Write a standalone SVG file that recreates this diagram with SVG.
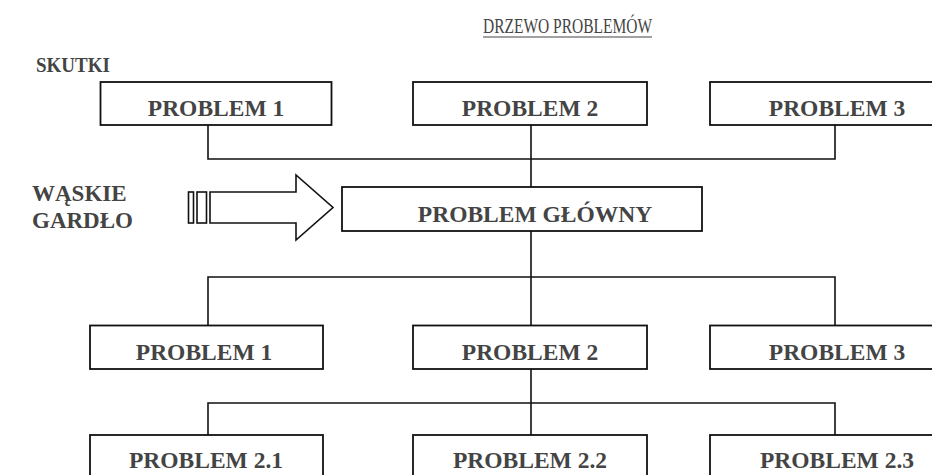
<svg xmlns="http://www.w3.org/2000/svg" width="932" height="475" viewBox="0 0 932 475">
  <style>
    .box { fill: #ffffff; stroke: #111111; stroke-width: 1.8; }
    .lbl { font-family: "Liberation Serif", "Times New Roman", serif; font-weight: bold; font-size: 23.5px; fill: #444444; text-anchor: middle; }
    .side { font-family: "Liberation Serif", "Times New Roman", serif; font-weight: bold; fill: #444444; }
    .title { font-family: "Liberation Serif", "Times New Roman", serif; font-size: 21px; fill: #444444; }
    .wire { fill: none; stroke: #111111; stroke-width: 1.6; }
    .arrow { fill: #ffffff; stroke: #111111; stroke-width: 1.6; stroke-linejoin: miter; }
  </style>
  <rect width="932" height="475" fill="#ffffff"/>

  <!-- heading -->
  <g id="heading">
    <text class="title" x="483" y="33" textLength="169" lengthAdjust="spacingAndGlyphs">DRZEWO PROBLEMÓW</text>
    <line x1="483" y1="37" x2="652" y2="37" stroke="#444444" stroke-width="1.2"/>
  </g>

  <text class="side" x="36" y="72" font-size="21" textLength="74" lengthAdjust="spacingAndGlyphs">SKUTKI</text>

  <!-- bottleneck label and arrow -->
  <g id="bottleneck">
    <text class="side" x="32" y="201" font-size="23">WĄSKIE</text>
    <text class="side" x="32" y="228" font-size="23">GARDŁO</text>
    <rect class="arrow" x="188.5" y="192" width="5" height="31"/>
    <rect class="arrow" x="197" y="192" width="9.5" height="31"/>
    <polygon class="arrow" points="210,192 296,192 296,175 333,207.5 296,240 296,223 210,223"/>
  </g>

  <!-- connectors -->
  <g id="connectors">
    <path class="wire" d="M208,125 V159 H835 V125 M531,125 V187"/>
    <path class="wire" d="M531,231 V325.5 M208,325.5 V277 H835 V325.5"/>
    <path class="wire" d="M531,369 V435 M208,435 V403 H835 V435"/>
  </g>

  <!-- effects -->
  <g id="effect1">
    <rect class="box" x="100.5" y="82" width="231" height="43"/>
    <text class="lbl" x="216" y="116">PROBLEM 1</text>
  </g>
  <g id="effect2">
    <rect class="box" x="413" y="82" width="234" height="43"/>
    <text class="lbl" x="530" y="116">PROBLEM 2</text>
  </g>
  <g id="effect3">
    <rect class="box" x="710" y="82" width="254" height="43"/>
    <text class="lbl" x="837" y="116">PROBLEM 3</text>
  </g>

  <!-- core problem -->
  <g id="core">
    <rect class="box" x="342" y="187" width="360" height="44"/>
    <text class="lbl" x="535" y="221.5">PROBLEM GŁÓWNY</text>
  </g>

  <!-- causes -->
  <g id="cause1">
    <rect class="box" x="90" y="325.5" width="233" height="43.5"/>
    <text class="lbl" x="204" y="359.5">PROBLEM 1</text>
  </g>
  <g id="cause2">
    <rect class="box" x="413" y="325.5" width="234" height="43.5"/>
    <text class="lbl" x="530" y="359.5">PROBLEM 2</text>
  </g>
  <g id="cause3">
    <rect class="box" x="710" y="325.5" width="254" height="43.5"/>
    <text class="lbl" x="837" y="359.5">PROBLEM 3</text>
  </g>

  <!-- sub-causes -->
  <g id="cause2_1">
    <rect class="box" x="90" y="435" width="233" height="50"/>
    <text class="lbl" x="206" y="468">PROBLEM 2.1</text>
  </g>
  <g id="cause2_2">
    <rect class="box" x="413" y="435" width="234" height="50"/>
    <text class="lbl" x="530" y="468">PROBLEM 2.2</text>
  </g>
  <g id="cause2_3">
    <rect class="box" x="710" y="435" width="254" height="50"/>
    <text class="lbl" x="837" y="468">PROBLEM 2.3</text>
  </g>
</svg>
